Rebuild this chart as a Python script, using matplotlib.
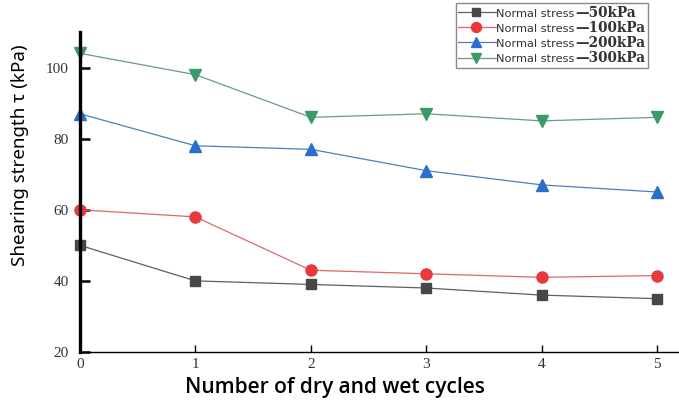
import matplotlib
matplotlib.use("Agg")
import matplotlib.pyplot as plt
from matplotlib.lines import Line2D
from matplotlib.offsetbox import (AnchoredOffsetbox, DrawingArea, HPacker,
                                  TextArea, VPacker)

cycles = [0, 1, 2, 3, 4, 5]
s50 = [50, 40, 39, 38, 36, 35]
s100 = [60, 58, 43, 42, 41, 41.5]
s200 = [87, 78, 77, 71, 67, 65]
s300 = [104, 98, 86, 87, 85, 86]
labels = ["50kPa", "100kPa", "200kPa", "300kPa"]
yticks = [20, 40, 60, 80, 100]

fig = plt.figure(figsize=(6.79, 4.04), dpi=100)
ax = fig.add_axes([0.1178, 0.1287, 0.8822, 0.7921])

series = [
    (s50, 's', '#474747', '#606060', 7),
    (s100, 'o', '#e83a3a', '#d96a6a', 8),
    (s200, '^', '#2a6fcc', '#4a7fc0', 8.5),
    (s300, 'v', '#3a9a68', '#6a9a88', 8.5),
]
for vals, mk, mc, lc, ms in series:
    ax.plot(cycles, vals, color=lc, lw=0.9, marker=mk, markersize=ms,
            markerfacecolor=mc, markeredgecolor=mc, clip_on=False)

ax.set_xlim(0, 5.19)
ax.set_ylim(20, 110)
ax.set_xticks(cycles)
ax.set_yticks(yticks)
ax.spines['top'].set_visible(False)
ax.spines['right'].set_visible(False)
ax.spines['left'].set_linewidth(2.4)
ax.spines['bottom'].set_linewidth(1.0)
ax.tick_params(axis='y', direction='in', length=7, width=1.8, pad=8)
ax.tick_params(axis='x', direction='in', length=5, width=1.0, pad=4)
for lbl in ax.get_xticklabels() + ax.get_yticklabels():
    lbl.set_fontfamily('Liberation Serif')
    lbl.set_fontsize(11)
    lbl.set_color('#333333')

ax.set_xlabel("Number of dry and wet cycles", fontsize=15, fontfamily='Open Sans',
              fontweight='semibold')
ax.xaxis.set_label_coords(0.426, -0.078)
ax.set_ylabel("Shearing strength τ (kPa)", fontsize=13.5, fontfamily='Noto Sans',
              fontweight='semibold')
ax.yaxis.set_label_coords(-0.085, 0.6156)

# custom legend: sans "Normal stress" + serif "—XXkPa"
rows = []
for (vals, mk, mc, lc, ms), lab in zip(series, labels):
    da = DrawingArea(27, 8, 0, 0)
    da.add_artist(Line2D([0, 27], [3.5, 3.5], color=lc, lw=0.9))
    da.add_artist(Line2D([13], [3.5], marker=mk, markersize=ms * 0.9,
                         markerfacecolor=mc, markeredgecolor=mc, lw=0))
    t1 = TextArea("Normal stress",
                  textprops=dict(family='DejaVu Sans', size=8.2, color='#333333'))
    t2 = TextArea("\u2014" + lab,
                  textprops=dict(family='DejaVu Serif', size=9.8,
                                 weight='bold', color='#333333'))
    rows.append(HPacker(children=[da, t1, t2], align='baseline', pad=0, sep=0.5))
box = VPacker(children=rows, align='left', pad=0, sep=0.8)
anch = AnchoredOffsetbox(loc='upper right', child=box, pad=0.2, borderpad=0,
                         frameon=True, bbox_to_anchor=(0.955, 0.993),
                         bbox_transform=fig.transFigure)
anch.patch.set_edgecolor('#888888')
anch.patch.set_linewidth(1.0)
anch.patch.set_boxstyle('square', pad=0)
ax.add_artist(anch)

fig.savefig("out.png", dpi=100)
